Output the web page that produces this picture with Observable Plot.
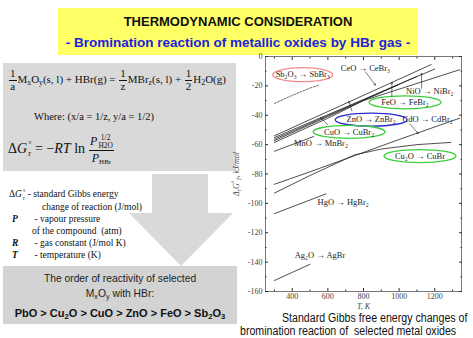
<!DOCTYPE html>
<html><head><meta charset="utf-8">
<script src="https://cdn.jsdelivr.net/npm/d3@7"></script>
<script src="https://cdn.jsdelivr.net/npm/@observablehq/plot@0.6"></script>
<style>
html,body{margin:0;padding:0;background:#fff}
#page{position:relative;width:473px;height:338px;overflow:hidden;font-family:"Liberation Sans",Arial,sans-serif;color:#111}
.abs{position:absolute;white-space:nowrap}
.serif{font-family:"Liberation Serif","Times New Roman",serif}
sub{font-size:70%;vertical-align:-0.3em;line-height:0}
sup{font-size:70%;vertical-align:0.45em;line-height:0}
.fr{display:inline-block;vertical-align:middle;text-align:center;line-height:1.05;margin:0 1px}
.fr>span{display:block}
.fr>span:first-child{border-bottom:0.8px solid #111;padding:0 1px}
.ss{display:inline-flex;flex-direction:column;vertical-align:middle;line-height:1.05;font-size:60%;margin-left:1px}
.cap{font:12.5px 'Liberation Sans',Arial,sans-serif;line-height:13px;color:#111;transform:scaleX(0.85);transform-origin:0 0}
</style></head>
<body><div id="page">
  <div class="abs" style="left:58px;top:8px;width:360px;height:47px;background:#ffff66"></div>
  <div class="abs" style="left:58px;top:14px;width:360px;text-align:center;font:bold 13px 'Liberation Sans',Arial,sans-serif;color:#111">THERMODYNAMIC CONSIDERATION</div>
  <div class="abs" style="left:58px;top:35px;width:360px;text-align:center;font:bold 13.5px 'Liberation Sans',Arial,sans-serif;color:#2222dd">- Bromination reaction of metallic oxides by HBr gas -</div>

  <div class="abs" style="left:3px;top:63px;width:233px;height:108px;background:#d9d9d9"></div>
  <div class="abs serif" style="left:8px;top:68px;font-size:11px"><span class="fr"><span>1</span><span>a</span></span>M<sub>x</sub>O<sub>y</sub>(s, l) + HBr(g) = <span class="fr"><span>1</span><span>z</span></span>MBr<sub>z</sub>(s, l) + <span class="fr"><span>1</span><span>2</span></span>H<sub>2</sub>O(g)</div>
  <div class="abs serif" style="left:34px;top:111px;font-size:10.5px">Where: (x/a = 1/z, y/a = 1/2)</div>
  <div class="abs serif" style="left:8px;top:134px;font-size:14px">&Delta;<i>G</i><span class="ss"><span>&deg;</span><span>r</span></span> = &minus;<i>RT</i> ln<span class="fr" style="font-size:12px;margin-left:4px;line-height:1.2"><span><i>P</i><span class="ss" style="font-size:62%"><span>1/2</span><span>H2O</span></span></span><span><i>P</i><sub style="font-size:58%">HBr</sub></span></span></div>

  <svg class="abs" style="left:0;top:0" width="473" height="338"><polygon points="152,174 208,174 208,213 233,213 181,266 129,213 152,213" fill="#d9d9d9"/></svg>

  <div class="abs serif" style="left:9px;top:188px;font-size:9.5px;line-height:12px">
    <div>&Delta;<i>G</i><span class="ss"><span>&deg;</span><span>r</span></span> - standard Gibbs energy</div>
    <div style="padding-left:33px">change of reaction (J/mol)</div>
    <div><b><i style="display:inline-block;width:20px;padding-left:3px">P</i></b> - vapour pressure</div>
    <div style="padding-left:23px">of the compound &nbsp;(atm)</div>
    <div><b><i style="display:inline-block;width:20px;padding-left:3px">R</i></b> - gas constant (J/mol K)</div>
    <div><b><i style="display:inline-block;width:20px;padding-left:3px">T</i></b> - temperature (K)</div>
  </div>

  <div class="abs" style="left:3px;top:266px;width:234px;height:58px;background:#d3d3d3"></div>
  <div class="abs" style="left:3px;top:273px;width:234px;text-align:center;font-size:10.3px;color:#222">The order of reactivity of selected</div>
  <div class="abs" style="left:3px;top:288px;width:234px;text-align:center;font-size:10.3px;color:#222">M<sub>x</sub>O<sub>y</sub> with HBr:</div>
  <div class="abs" style="left:3px;top:307px;width:234px;text-align:center;font-size:11px;font-weight:bold;color:#111">PbO &gt; Cu<sub>2</sub>O &gt; CuO &gt; ZnO &gt; FeO &gt; Sb<sub>2</sub>O<sub>3</sub></div>

  <div id="chart" class="abs" style="left:233px;top:46px"></div>

  <div class="abs cap" style="left:282px;top:312px">Standard Gibbs free energy changes of</div>
  <div class="abs cap" style="left:240px;top:325px">bromination reaction of &nbsp;selected metal oxides</div>
</div>
<script>
// ---- data (T in K, ΔG in kJ/mol) ----
const sbT = [300, 400, 500, 550],            sbG = [-32, -26.5, -21.5, -19.5];
const ceT = [300, 1180],                     ceG = [-54, -5.5];
const znT = [300, 1200],                     znG = [-55.2, -8.5];
const cuT = [300, 1100],                     cuG = [-56.3, -13.5];
const feT = [300, 1000],                     feG = [-57.3, -19];
const niT = [300, 600, 800, 1340],           niG = [-58.5, -42, -30, -9];
const mnT = [300, 520],                      mnG = [-64.5, -54.5];
const cdT = [300, 500, 750, 1000, 1340],     cdG = [-87, -78.5, -67.5, -56.5, -42];
const cu2oT = [300, 500, 750, 900, 1100, 1290], cu2oG = [-93, -81, -67, -63, -60, -58.5];
const hgT = [300, 590],                      hgG = [-107, -93.5];
const agT = [300, 500],                      agG = [-152.5, -141.5];

const labelText = ["Sb₂O₃ → SbBr₃", "CeO → CeBr₃", "NiO → NiBr₂", "FeO → FeBr₂", "ZnO → ZnBr₂", "CdO → CdBr₂", "CuO → CuBr₂", "MnO → MnBr₂", "Cu₂O → CuBr", "HgO → HgBr₂", "Ag₂O → AgBr"];
const labelT = [459, 811, 1172, 1033, 843, 1160, 719, 561, 1117, 686, 556];
const labelG = [-12.4, -8.3, -23.7, -31.2, -43, -43, -51.3, -58.8, -67.8, -99, -135.6];

const circled = ["Sb₂O₃ → SbBr₃", "FeO → FeBr₂", "ZnO → ZnBr₂", "CuO → CuBr₂", "Cu₂O → CuBr"];
const circleColor = ["#f28a8a", "#3ccf3c", "#2a2ad0", "#3ccf3c", "#3ccf3c"];

const arrowT1 = [811, 1126, 959, 735, 598, 1061], arrowG1 = [-10.5, -21.5, -27, -37, -46.5, -46];
const arrowT2 = [867, 1126, 959, 718, 560, 1107], arrowG2 = [-19.5, -11.5, -17.5, -30.5, -41.5, -52.5];

const xMajor = [400, 600, 800, 1000, 1200];
const xMinor = [300, 500, 700, 900, 1100, 1300];
const yMajor = [-160, -140, -120, -100, -80, -60, -40, -20, 0];
const yMinor = [-150, -130, -110, -90, -70, -50, -30, -10];

// ---- build tables ----
const series = [
  ["Sb2O3", sbT, sbG, true], ["CeO", ceT, ceG, false], ["ZnO", znT, znG, false], ["CuO", cuT, cuG, false],
  ["FeO", feT, feG, false], ["NiO", niT, niG, false], ["MnO", mnT, mnG, false], ["CdO", cdT, cdG, false],
  ["Cu2O", cu2oT, cu2oG, false], ["HgO", hgT, hgG, false], ["Ag2O", agT, agG, false]
];
const solid = [], dashed = [];
for (const [name, T, G, d] of series) T.forEach((t, i) => (d ? dashed : solid).push({name, T: t, G: G[i]}));
const labels = labelText.map((text, i) => ({text, T: labelT[i], G: labelG[i]}));
const rings = circled.map((text, i) => ({...labels.find(l => l.text === text), color: circleColor[i]}));
const arrows = arrowT1.map((t, i) => ({T1: t, G1: arrowG1[i], T2: arrowT2[i], G2: arrowG2[i]}));

function ellipse(rx, ry) {
  const k = 0.5522848;
  return {draw(c) {
    c.moveTo(rx, 0);
    c.bezierCurveTo(rx, ry * k, rx * k, ry, 0, ry);
    c.bezierCurveTo(-rx * k, ry, -rx, ry * k, -rx, 0);
    c.bezierCurveTo(-rx, -ry * k, -rx * k, -ry, 0, -ry);
    c.bezierCurveTo(rx * k, -ry, rx, -ry * k, rx, 0);
    c.closePath();
  }};
}
const blank = () => "";

const chart = Plot.plot({
  width: 236, height: 275,
  marginLeft: 32, marginRight: 8, marginTop: 10, marginBottom: 30,
  style: {background: "transparent", fontFamily: "'Liberation Serif', serif", fontSize: "8px", color: "#333", overflow: "visible"},
  x: {domain: [250, 1350]},
  y: {domain: [-160, 0]},
  marks: [
    Plot.frame({stroke: "#555", strokeWidth: 0.8}),
    Plot.axisY({anchor: "left", ticks: yMajor, tickSize: -3, tickPadding: 6, tickFormat: d => String(d), label: "ΔrG°T, kJ/mol", labelAnchor: "center", labelOffset: 32, labelArrow: "none", fill: "#444"}),
    Plot.axisY({anchor: "left", ticks: yMinor, tickSize: -1.5, tickFormat: blank, label: null}),
    Plot.axisY({anchor: "right", ticks: yMajor, tickSize: -3, tickFormat: blank, label: null}),
    Plot.axisY({anchor: "right", ticks: yMinor, tickSize: -1.5, tickFormat: blank, label: null}),
    Plot.axisX({anchor: "bottom", ticks: xMajor, tickSize: -3, tickPadding: 5, tickFormat: d => String(d), label: "T, K", labelAnchor: "center", labelOffset: 17, labelArrow: "none", fill: "#444"}),
    Plot.axisX({anchor: "bottom", ticks: xMinor, tickSize: -1.5, tickFormat: blank, label: null}),
    Plot.axisX({anchor: "top", ticks: xMajor, tickSize: -3, tickFormat: blank, label: null}),
    Plot.axisX({anchor: "top", ticks: xMinor, tickSize: -1.5, tickFormat: blank, label: null}),
    Plot.line(solid, {x: "T", y: "G", z: "name", stroke: "#222", strokeWidth: 0.8}),
    Plot.line(dashed, {x: "T", y: "G", z: "name", stroke: "#444", strokeWidth: 0.8, strokeDasharray: "2,1.5"}),
    Plot.dot(rings.filter(r => r.text.startsWith("Sb")), {x: "T", y: "G", symbol: ellipse(30, 7), stroke: "color", strokeWidth: 1.3, fill: "none"}),
    Plot.dot(rings.filter(r => !r.text.startsWith("Sb")), {x: "T", y: "G", symbol: ellipse(36, 6.5), stroke: "color", strokeWidth: 1.3, fill: "none"}),
    Plot.arrow(arrows, {x1: "T1", y1: "G1", x2: "T2", y2: "G2", stroke: "#222", strokeWidth: 0.6, headLength: 4}),
    Plot.text(labels, {x: "T", y: "G", text: "text", fill: "#222", fontSize: 8.5})
  ]
});
document.getElementById("chart").appendChild(chart);

// rich y-axis label: Δ_rG°_T, kJ/mol
const yl = chart.querySelector('g[aria-label="y-axis label"] text');
if (yl) {
  yl.textContent = "";
  yl.setAttribute("font-style", "italic");
  const parts = [["Δ", 0, null], ["r", 2, 6], ["G", -2, null], ["°", -3, 6], ["T", 5, 6], [", kJ/mol", -2, null]];
  for (const [t, dy, fs] of parts) {
    const ts = document.createElementNS("http://www.w3.org/2000/svg", "tspan");
    ts.textContent = t;
    if (dy) ts.setAttribute("dy", dy);
    if (fs) ts.setAttribute("font-size", fs);
    yl.appendChild(ts);
  }
}
const xl = chart.querySelector('g[aria-label="x-axis label"] text');
if (xl) xl.setAttribute("font-style", "italic");
</script>
</body></html>
